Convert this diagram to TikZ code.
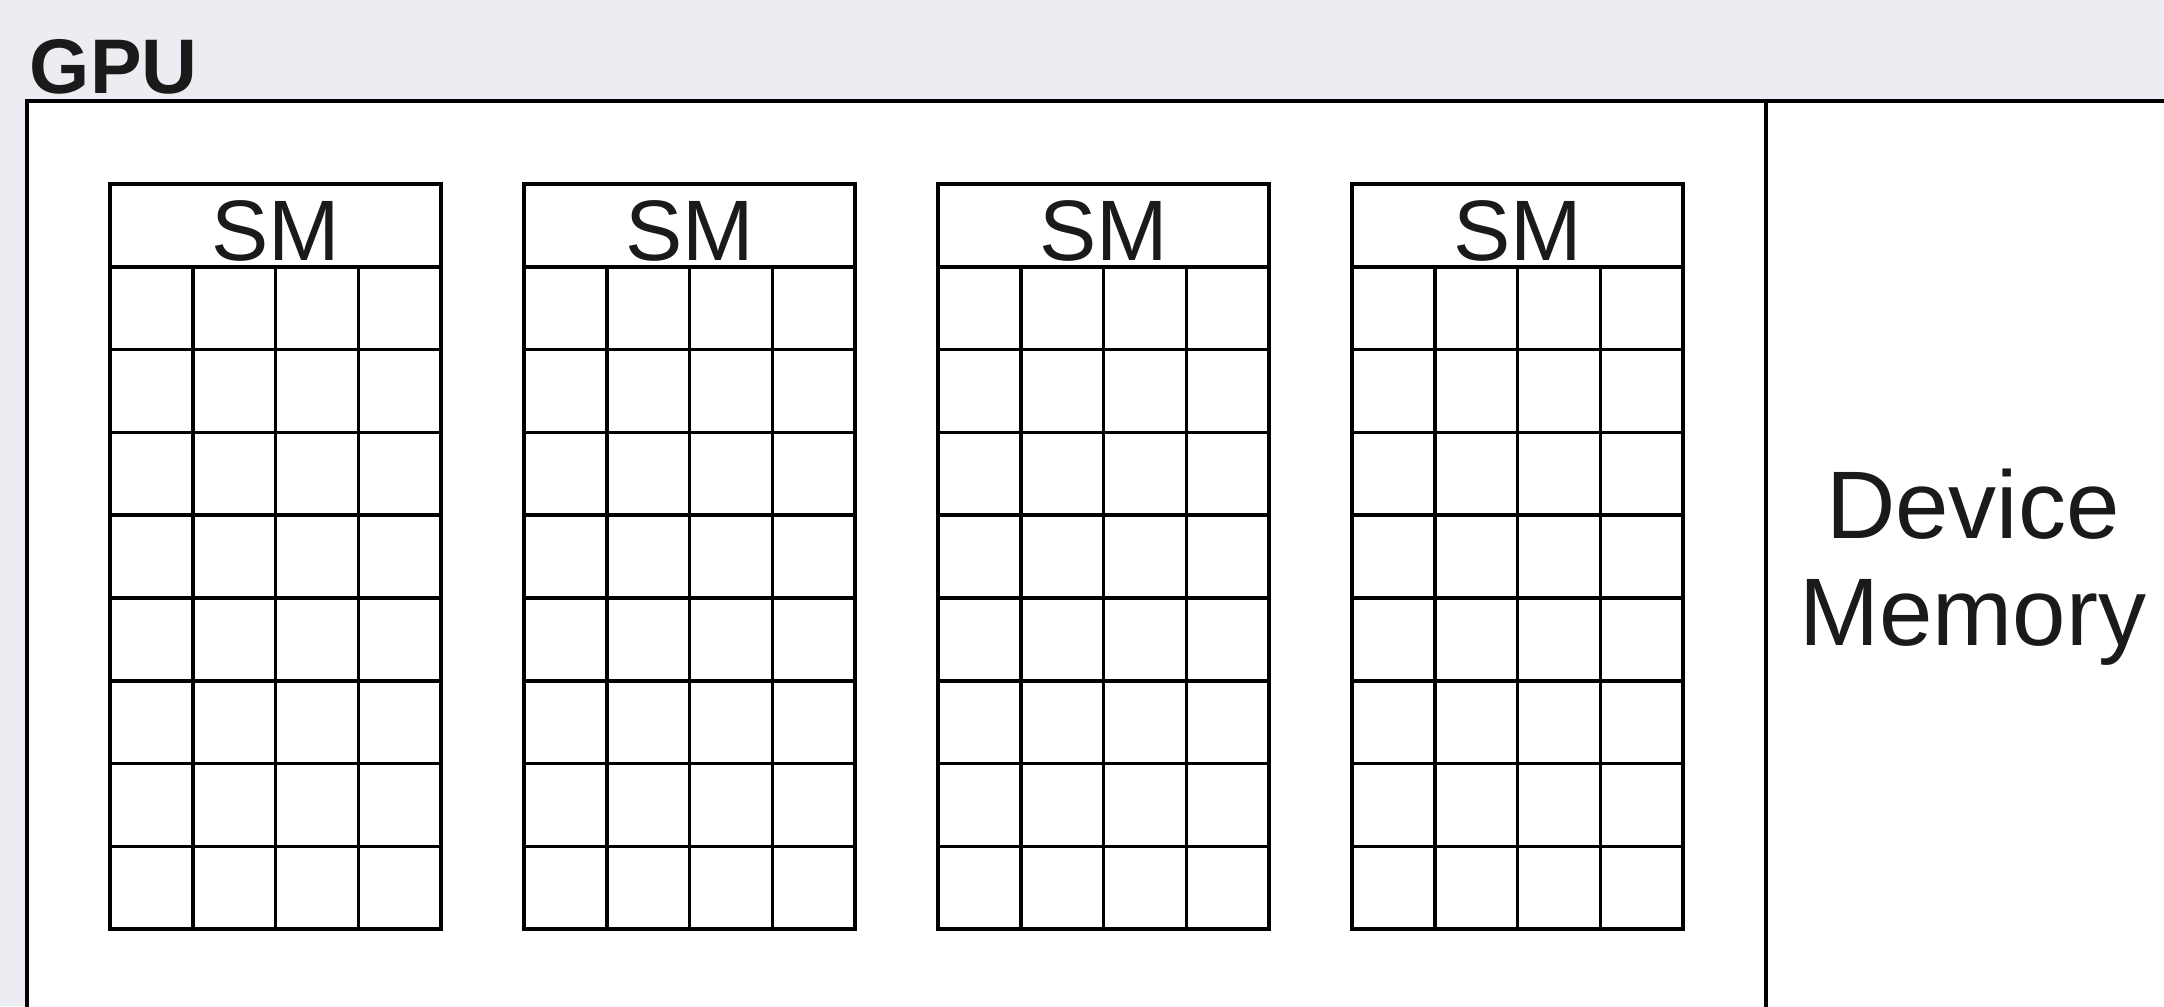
\documentclass[tikz,border=0pt]{standalone}
\usepackage{fontspec}
\setmainfont{Liberation Sans}
\usetikzlibrary{positioning}

\definecolor{pagebg}{RGB}{236,237,242}
\definecolor{inkblack}{RGB}{26,26,26}

\tikzset{
  smlabel/.style={anchor=base, inner sep=0pt, text=inkblack,
    font=\fontsize{29.5}{32}\selectfont},
  gpulabel/.style={anchor=base west, inner sep=0pt, text=inkblack,
    font=\fontsize{26.6}{29}\selectfont\bfseries},
  memlabel/.style={align=center, inner sep=0pt, text=inkblack,
    font=\fontsize{33}{36.8}\selectfont},
}

\begin{document}
\begin{tikzpicture}[line width=1.25pt, >=latex]
    % page
    \fill[pagebg] (-1.3285,2.222) rectangle (24.807,-9.928);
    \useasboundingbox (-1.3285,2.222) rectangle (24.807,-9.928);
    \clip (-1.3285,2.222) rectangle (24.807,-9.928);

    % GPU frame
    \node[gpulabel] (gpu) at (-0.99,1.09) {GPU};
    \filldraw[fill=white] (-1,1) rectangle (25,-10);
    \draw (20,1) -- (20,-10);

    % SMs
    \foreach \i in {0,...,3} {
        \draw (5*\i,0) rectangle (5*\i+4,-9);
        \draw (5*\i,-1) grid (5*\i+4,-9);
        \node[smlabel] (sm\i) at (5*\i+2,-0.92) {SM};
    }

    \node[memlabel] (devmem) at (22.5,-4.63) {Device\\Memory};
\end{tikzpicture}
\end{document}
